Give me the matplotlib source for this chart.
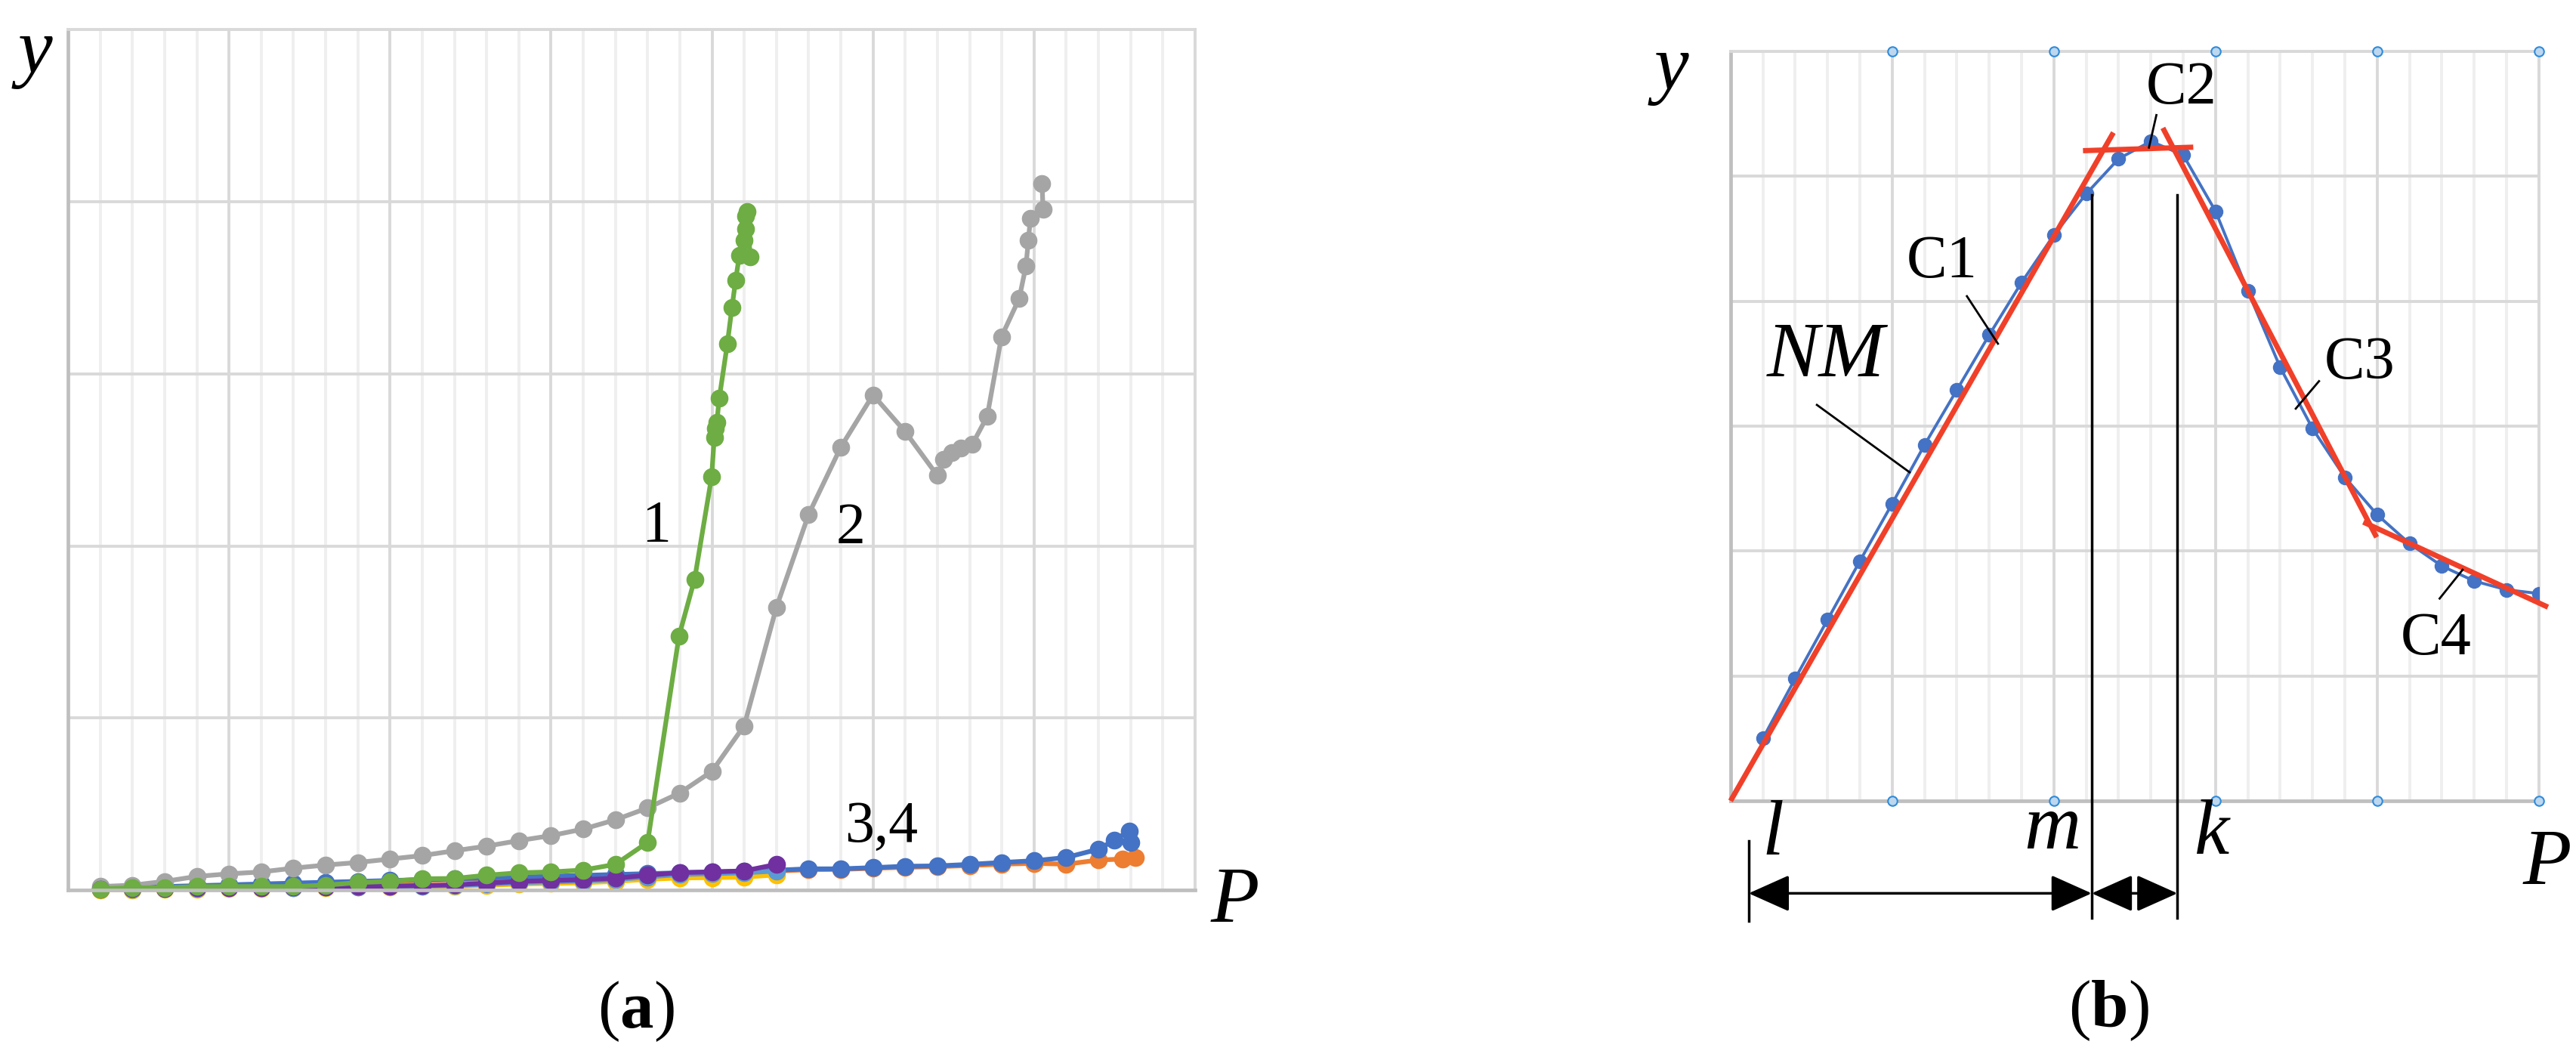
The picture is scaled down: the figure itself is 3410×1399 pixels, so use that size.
import matplotlib.pyplot as plt
import numpy as np

plt.rcParams['font.family'] = ['Liberation Serif', 'DejaVu Serif']
plt.rcParams['mathtext.fontset'] = 'custom'
plt.rcParams['mathtext.rm'] = 'Liberation Serif'
plt.rcParams['mathtext.bf'] = 'Liberation Serif:bold'

# ---------------------------------------------------------------- #
# panel (a): x in major grid cells (0..7), y in major grid cells (0..5)

green_x = [0.2, 0.4, 0.6, 0.8, 1.0, 1.2, 1.4, 1.6, 1.8, 2.0, 2.2, 2.4, 2.6, 2.8, 3.0, 3.2, 3.4, 3.6,
           3.795, 3.892, 3.998, 4.014, 4.019, 4.03, 4.045, 4.095, 4.124, 4.147, 4.17, 4.20, 4.21, 4.21,
           4.217, 4.238]
green_y = [0.006, 0.013, 0.013, 0.02, 0.02, 0.02, 0.02, 0.028, 0.043, 0.05, 0.065, 0.067, 0.086, 0.10,
           0.105, 0.116, 0.149, 0.277, 1.476, 1.807, 2.404, 2.631, 2.682, 2.72, 2.858, 3.173, 3.387,
           3.546, 3.69, 3.778, 3.841, 3.917, 3.942, 3.678]

gray_x = [0.2, 0.4, 0.6, 0.8, 1.0, 1.2, 1.4, 1.6, 1.8, 2.0, 2.2, 2.4, 2.6, 2.8, 3.0, 3.2, 3.4, 3.6,
          3.8, 4.0, 4.2, 4.4, 4.6, 4.8, 5.0, 5.2, 5.4, 5.44, 5.49, 5.547, 5.618, 5.709, 5.798, 5.908,
          5.95, 5.965, 5.978, 6.056, 6.05]
gray_y = [0.02, 0.028, 0.05, 0.079, 0.094, 0.105, 0.127, 0.145, 0.16, 0.18, 0.20, 0.228, 0.255, 0.287,
          0.316, 0.354, 0.408, 0.477, 0.564, 0.69, 0.955, 1.643, 2.183, 2.574, 2.878, 2.664, 2.409,
          2.505, 2.543, 2.568, 2.593, 2.752, 3.216, 3.438, 3.627, 3.778, 3.904, 3.955, 4.106]

blue_x = [0.2, 0.4, 0.6, 0.8, 1.0, 1.2, 1.4, 1.6, 1.8, 2.0, 2.2, 2.4, 2.6, 2.8, 3.0, 3.2, 3.4, 3.6,
          3.8, 4.0, 4.2, 4.4, 4.6, 4.8, 5.0, 5.2, 5.4, 5.6, 5.8, 6.0, 6.2, 6.4, 6.5, 6.59, 6.6]
blue_y = [0.01, 0.015, 0.02, 0.025, 0.03, 0.035, 0.04, 0.045, 0.05, 0.055, 0.06, 0.065, 0.07, 0.075,
          0.08, 0.085, 0.09, 0.095, 0.10, 0.105, 0.11, 0.115, 0.123, 0.123, 0.13, 0.138, 0.14, 0.149,
          0.16, 0.17, 0.189, 0.237, 0.29, 0.343, 0.277]

orange_x = [0.2, 0.4, 0.6, 0.8, 1.0, 1.2, 1.4, 1.6, 1.8, 2.0, 2.2, 2.4, 2.6, 2.8, 3.0, 3.2, 3.4, 3.6,
            3.8, 4.0, 4.2, 4.4, 4.6, 4.8, 5.0, 5.2, 5.4, 5.6, 5.8, 6.0, 6.2, 6.4, 6.55, 6.63]
orange_y = [0.006, 0.01, 0.015, 0.02, 0.025, 0.03, 0.035, 0.04, 0.045, 0.05, 0.055, 0.06, 0.065, 0.07,
            0.075, 0.08, 0.085, 0.09, 0.095, 0.10, 0.105, 0.11, 0.118, 0.12, 0.126, 0.132, 0.136, 0.142,
            0.15, 0.155, 0.15, 0.174, 0.18, 0.19]

short_x = [0.2, 0.4, 0.6, 0.8, 1.0, 1.2, 1.4, 1.6, 1.8, 2.0, 2.2, 2.4, 2.6, 2.8, 3.0, 3.2, 3.4, 3.6,
           3.8, 4.0, 4.2, 4.4]
purple_y = [0.005, 0.007, 0.009, 0.011, 0.013, 0.015, 0.017, 0.019, 0.021, 0.023, 0.026, 0.03, 0.04,
            0.05, 0.055, 0.06, 0.068, 0.086, 0.101, 0.105, 0.111, 0.149]
lightblue_y = [0.003, 0.005, 0.007, 0.009, 0.011, 0.013, 0.015, 0.017, 0.019, 0.021, 0.023, 0.026,
               0.033, 0.042, 0.047, 0.052, 0.06, 0.076, 0.09, 0.095, 0.1, 0.11]
yellow_y = [0.0, 0.002, 0.004, 0.006, 0.008, 0.01, 0.012, 0.014, 0.016, 0.018, 0.02, 0.022, 0.027,
            0.034, 0.038, 0.042, 0.05, 0.062, 0.07, 0.072, 0.075, 0.088]

# ---------------------------------------------------------------- #
# panel (b): x in minor grid cells (0..25), y in major grid cells (0..6)

b_x = [1, 2, 3, 4, 5, 6, 7, 8, 9, 10, 11, 12, 13, 14, 15, 16, 17, 18, 19, 20, 21, 22, 23, 24, 25]
b_y = [0.50, 0.98, 1.45, 1.92, 2.38, 2.85, 3.29, 3.73, 4.15, 4.53, 4.86, 5.14, 5.28, 5.17, 4.72,
       4.08, 3.47, 2.98, 2.59, 2.29, 2.06, 1.88, 1.76, 1.69, 1.66]

nm_x, nm_y = [0.0, 11.84], [0.0, 5.35]
c2_x, c2_y = [10.90, 14.31], [5.205, 5.233]
c3_x, c3_y = [13.37, 19.98], [5.387, 2.11]
c4_x, c4_y = [19.57, 25.28], [2.232, 1.551]

m_pos, k_pos, l_pos = 11.17, 13.82, 0.56

label_text = ['NM', 'C1', 'C2', 'C3', 'C4']
label_xy = [(2.94, 3.55), (6.54, 4.31), (13.94, 5.70), (19.46, 3.50), (21.82, 1.29)]
leader_from = [(5.54, 2.63), (8.27, 3.66), (12.94, 5.23), (17.48, 3.14), (21.93, 1.62)]
leader_to = [(2.67, 3.17), (7.31, 4.04), (13.17, 5.49), (18.20, 3.36), (22.64, 1.85)]

GRID_MAJOR = '#D9D9D9'
GRID_MINOR = '#EFEFEF'
AXIS_GRAY = '#BFBFBF'


def style_axes(ax, xmax, ymax, step):
    ax.set_xlim(0, xmax)
    ax.set_ylim(0, ymax)
    major = np.arange(0, xmax + step / 2, 1.0 if step < 1 else 5)
    minor = [v for v in np.arange(0, xmax + step / 2, step) if np.min(np.abs(major - v)) > 1e-6]
    ax.set_xticks(major)
    ax.set_xticks(minor, minor=True)
    ax.set_yticks(np.arange(0, ymax + 0.5, 1))
    ax.grid(True, which='minor', axis='x', color=GRID_MINOR, lw=2.8)
    ax.grid(True, which='major', axis='x', color=GRID_MAJOR, lw=2.8)
    ax.grid(True, which='major', axis='y', color=GRID_MAJOR, lw=2.8)
    ax.tick_params(which='both', length=0, labelbottom=False, labelleft=False)
    ax.set_axisbelow(True)
    for s in ['top', 'right']:
        ax.spines[s].set_color(GRID_MAJOR)
        ax.spines[s].set_linewidth(2.8)
    for s in ['left', 'bottom']:
        ax.spines[s].set_color(AXIS_GRAY)
        ax.spines[s].set_linewidth(3.4)


fig = plt.figure(figsize=(34.1, 13.99), dpi=100)

# ------------------------------- (a) ------------------------------ #
ax1 = fig.add_axes([0.0264, 0.158, 0.4375, 0.8138])
style_axes(ax1, 7, 5, 0.2)

mk = dict(marker='o', markersize=16, lw=4.5, clip_on=False)
ax1.plot(orange_x, orange_y, color='#ED7D31', **mk)
ax1.plot(blue_x, blue_y, color='#4472C4', **mk)
ax1.plot(gray_x, gray_y, color='#A5A5A5', **mk)
ax1.plot(short_x, yellow_y, color='#FFC000', **mk)
ax1.plot(short_x, lightblue_y, color='#5B9BD5', **mk)
ax1.plot(short_x, purple_y, color='#7030A0', **mk)
ax1.plot(green_x, green_y, color='#6DAD43', **mk)

ax1.text(-0.207, 4.86, 'y', fontsize=74, style='italic', ha='center', va='center')
ax1.text(3.653, 2.11, '1', fontsize=56, ha='center', va='center')
ax1.text(4.862, 2.10, '2', fontsize=56, ha='center', va='center')
ax1.text(5.05, 0.365, '3,4', fontsize=56, ha='center', va='center')
ax1.text(7.25, -0.075, 'P', fontsize=76, style='italic', ha='center', va='center')
fig.text(0.2469, 0.0429, r'$\mathrm{(}\mathbf{a}\mathrm{)}$', fontsize=64, ha='center', va='center')

# ------------------------------- (b) ------------------------------ #
ax2 = fig.add_axes([0.6718, 0.2423, 0.3138, 0.7091])
style_axes(ax2, 25, 6, 1)

ring_x = [5, 10, 15, 20, 25]
for yy in [0, 6]:
    ax2.plot(ring_x, [yy] * len(ring_x), 'o', ms=9, mfc='#BDD7EE', mec='#2E8BDB', mew=1.5,
             clip_on=False, zorder=3)

ax2.plot(b_x, b_y, color='#4472C4', marker='o', markersize=13, lw=2.8, zorder=4)
for xs, ys in [(nm_x, nm_y), (c2_x, c2_y), (c3_x, c3_y), (c4_x, c4_y)]:
    ax2.plot(xs, ys, color='#F0402A', lw=5, solid_capstyle='butt', clip_on=False, zorder=5)

for txt, (tx, ty), p0, p1 in zip(label_text, label_xy, leader_from, leader_to):
    ax2.plot([p0[0], p1[0]], [p0[1], p1[1]], color='black', lw=2, zorder=6)
    if txt == 'NM':
        ax2.text(tx, ty, txt, fontsize=75, style='italic', ha='center', va='center')
    else:
        ax2.text(tx, ty, txt, fontsize=58, ha='center', va='center')

# dimension lines below the plot
for xv in [m_pos, k_pos]:
    ax2.plot([xv, xv], [4.85, -0.94], color='black', lw=2.5, clip_on=False, zorder=6)
ax2.plot([l_pos, l_pos], [-0.32, -0.96], color='black', lw=2.5, clip_on=False)

arrow = dict(arrowstyle='<|-|>,head_length=0.85,head_width=0.38', mutation_scale=40,
             color='black', lw=2.5, shrinkA=0, shrinkB=0)
ax2.annotate('', xy=(m_pos, -0.74), xytext=(l_pos, -0.74), arrowprops=arrow, annotation_clip=False)
ax2.annotate('', xy=(k_pos, -0.74), xytext=(m_pos, -0.74), arrowprops=arrow, annotation_clip=False)

ax2.text(-1.83, 5.85, 'y', fontsize=74, style='italic', ha='center', va='center')
ax2.text(1.31, -0.28, 'l', fontsize=75, style='italic', ha='center', va='center')
ax2.text(9.95, -0.23, 'm', fontsize=75, style='italic', ha='center', va='center')
ax2.text(14.9, -0.27, 'k', fontsize=75, style='italic', ha='center', va='center')
ax2.text(25.26, -0.51, 'P', fontsize=76, style='italic', ha='center', va='center')
fig.text(0.8185, 0.0436, r'$\mathrm{(}\mathbf{b}\mathrm{)}$', fontsize=64, ha='center', va='center')

plt.savefig('out.png', dpi=100)
